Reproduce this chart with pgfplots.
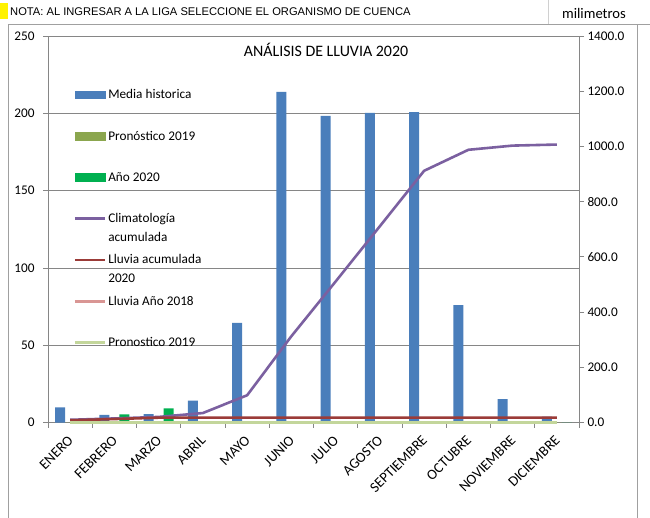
\documentclass[border=0pt]{standalone}
\usepackage{fontspec}
\setmainfont{Carlito}
\newfontfamily\arial{Liberation Sans}
\usepackage{pgfplots}
\usepackage{pgfplotstable}
\pgfplotsset{compat=1.18}
\definecolor{cMedia}{HTML}{4A7EBB}
\definecolor{cPron}{HTML}{8BA64E}
\definecolor{cAnio}{HTML}{00B050}
\definecolor{cClim}{HTML}{7B60A0}
\definecolor{cAcum}{HTML}{9B3B38}
\definecolor{cLl}{HTML}{D99694}
\definecolor{cPronL}{HTML}{C3D69B}
\definecolor{cGrid}{HTML}{868686}
\definecolor{cBorder}{HTML}{A0A0A0}
\definecolor{cCell}{HTML}{D0D0D0}

\newcommand{\twolines}[2]{\vtop{\hbox{#1}\hbox{#2}}}

\pgfplotstableread{
idx media pron anio
0 9.8 0 0
1 4.9 0 5.3
2 5.5 0 9.2
3 14.1 0 0
4 64.4 0 0
5 213.8 0 0
6 198.3 0 0
7 200.2 0 0
8 200.8 0 0
9 76.0 0 0
10 15.2 0 0
11 3.8 0 0
}\barsdata

\pgfplotstableread{
idx clim acum lluvia pronl
0 9.8 8 0 0
1 14.7 12.5 0 0
2 20.2 17.5 0 0
3 34.3 17.5 0 0
4 98.7 17.5 0 0
5 312.5 17.5 0 0
6 510.8 17.5 0 0
7 711.0 17.5 0 0
8 911.8 17.5 0 0
9 987.8 17.5 0 0
10 1003.0 17.5 0 0
11 1006.8 17.5 0 0
}\linesdata

\begin{document}
\begin{tikzpicture}
\path[use as bounding box] (0,0) rectangle (650bp,-518bp);

% sheet decorations
\fill[yellow] (0,-3bp) rectangle (8bp,-18.5bp);
\node[anchor=base west, inner sep=0pt] at (10bp,-15.5bp) {\arial\fontsize{11.2}{13}\selectfont NOTA: AL INGRESAR A LA LIGA SELECCIONE EL ORGANISMO DE CUENCA};
\draw[cCell, line width=0.8bp] (548bp,0) -- (548bp,-24bp);
\node[anchor=base, inner sep=0pt] at (594bp,-18.5bp) {\fontsize{14.67}{17}\selectfont milimetros};
\draw[cBorder, line width=0.8bp] (8bp,-520bp) -- (8bp,-24bp) -- (650bp,-24bp);
\draw[cBorder, line width=0.8bp] (637bp,-24bp) -- (637bp,-520bp);

\begin{axis}[
  scale only axis, width=531bp, height=386.5bp,
  at={(48bp,-422.5bp)}, anchor=south west,
  xmin=-0.5, xmax=11.5, ymin=0, ymax=250,
  axis x line*=bottom, axis y line*=left,
  axis line style={draw=cGrid, line width=0.8bp},
  ytick={0,50,...,250},
  ymajorgrids, grid style={draw=cGrid, line width=0.8bp},
  xtick={-0.5,0.5,...,11.5},
  xticklabels={ENERO,FEBRERO,MARZO,ABRIL,MAYO,JUNIO,JULIO,AGOSTO,SEPTIEMBRE,OCTUBRE,NOVIEMBRE,DICIEMBRE},
  xticklabel style={xshift=25bp, yshift=-8bp, rotate=45, anchor=east, font=\fontsize{14.5}{17}\selectfont},
  tick align=outside, major tick length=5bp,
  tick style={draw=cGrid, line width=0.8bp},
  yticklabel style={xshift=-5bp, font=\fontsize{13.3}{16}\selectfont},
  /pgf/number format/assume math mode=true,
]
\addplot[ybar, bar width=10bp, bar shift=-10bp, fill=cMedia, draw=none] table[x=idx, y=media] {\barsdata};
\addplot[ybar, bar width=10bp, bar shift=0bp, fill=cPron, draw=none] table[x=idx, y=pron] {\barsdata};
\addplot[ybar, bar width=10bp, bar shift=10bp, fill=cAnio, draw=none] table[x=idx, y=anio] {\barsdata};
\end{axis}

\begin{axis}[
  scale only axis, width=531bp, height=386.5bp,
  at={(48bp,-422.5bp)}, anchor=south west,
  xmin=-0.5, xmax=11.5, ymin=0, ymax=1400,
  axis x line=none, axis y line*=right,
  axis line style={draw=cGrid, line width=0.8bp},
  ytick={0,200,...,1400},
  tick align=outside, major tick length=5bp,
  tick style={draw=cGrid, line width=0.8bp},
  yticklabel style={font=\fontsize{13.3}{16}\selectfont, /pgf/number format/fixed, /pgf/number format/fixed zerofill, /pgf/number format/precision=1, /pgf/number format/1000 sep={}},
  /pgf/number format/assume math mode=true,
  clip=false,
  legend image code/.code={\draw[#1] (0bp,0bp) -- (30bp,0bp);},
  legend cell align=left,
  legend style={at={(0.0480,0.8615)}, anchor=north west, draw=none, fill=none, inner sep=0pt,
    row sep=31.3bp, column sep=2bp,
    nodes={inner sep=0pt, text height=9bp, text depth=1bp, font=\fontsize{13.3}{18.5}\selectfont}},
]
\addlegendimage{legend image code/.code={\fill[cMedia] (0bp,-3.8bp) rectangle (30bp,3.8bp);}}
\addlegendentry{Media historica}
\addlegendimage{legend image code/.code={\fill[cPron] (0bp,-3.8bp) rectangle (30bp,3.8bp);}}
\addlegendentry{Pronóstico 2019}
\addlegendimage{legend image code/.code={\fill[cAnio] (0bp,-3.8bp) rectangle (30bp,3.8bp);}}
\addlegendentry{Año 2020}
\addplot[cClim, line width=2.6bp, no markers, line join=round] table[x=idx, y=clim] {\linesdata};
\addlegendentry{\twolines{Climatología}{acumulada}}
\addplot[cAcum, line width=2.6bp, no markers, line join=round] table[x=idx, y=acum] {\linesdata};
\addlegendentry{\twolines{Lluvia acumulada}{2020}}
\addplot[cLl, line width=2.6bp, no markers, line join=round] table[x=idx, y=lluvia] {\linesdata};
\addlegendentry{Lluvia Año 2018}
\addplot[cPronL, line width=2.6bp, no markers, line join=round] table[x=idx, y=pronl] {\linesdata};
\addlegendentry{Pronostico 2019}
\end{axis}

\node[inner sep=0pt] at (326bp,-50bp) {\fontsize{16}{19}\selectfont ANÁLISIS DE LLUVIA 2020};
\end{tikzpicture}
\end{document}
